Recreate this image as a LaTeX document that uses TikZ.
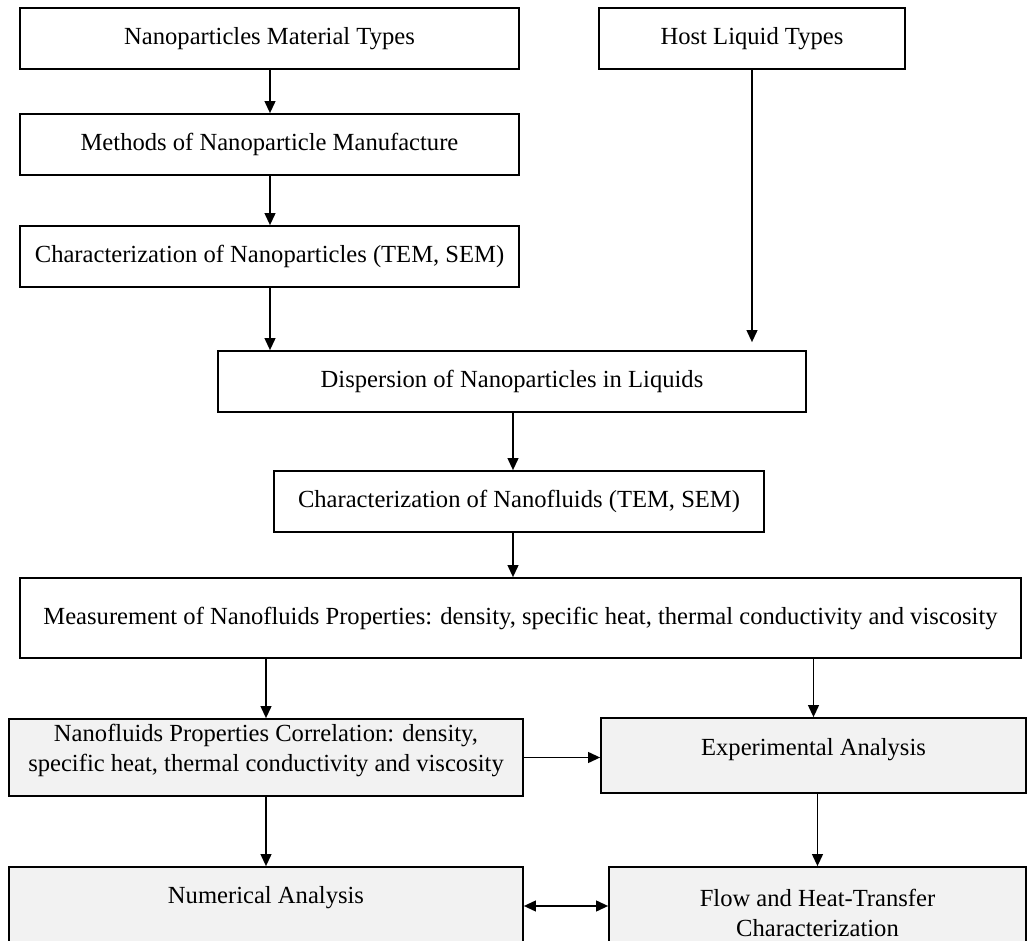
\documentclass[tikz,border=0pt]{standalone}
\usepackage{fontspec}
\setmainfont{Liberation Serif}
\usetikzlibrary{arrows.meta,calc}
\definecolor{boxgray}{HTML}{F2F2F2}
\begin{document}
\begin{tikzpicture}[x=0.5pt,y=-0.5pt,
  box/.style={draw=black, line width=0.85pt, fill=white, inner sep=0pt,
              font=\fontsize{12.3}{15}\selectfont, align=center},
  gbox/.style={box, fill=boxgray},
  lbl/.style={font=\fontsize{12.3}{15}\selectfont, align=center, inner sep=0pt},
  arr/.style={line width=0.8pt, -{Triangle[length=6pt,width=5.4pt]}},
  darr/.style={line width=0.8pt, {Triangle[length=6pt,width=5.4pt]}-{Triangle[length=6pt,width=5.4pt]}}]
\useasboundingbox (0,0) rectangle (1030,941);
\clip (0,0) rectangle (1030,941);

% boxes
\node[box, minimum width=249.5pt, minimum height=30.5pt] (b1) at (269.5,38.5) {Nanoparticles Material Types};
\node[box, minimum width=153pt, minimum height=30.5pt] (host) at (752,38.5) {Host Liquid Types};
\node[box, minimum width=249.5pt, minimum height=30.5pt] (meth) at (269.5,144.5) {Methods of Nanoparticle Manufacture};
\node[box, minimum width=249.5pt, minimum height=30.5pt] (charnp) at (269.5,256.5) {Characterization of Nanoparticles (TEM, SEM)};
\node[box, minimum width=294pt, minimum height=30.5pt] (disp) at (512,381.5) {Dispersion of Nanoparticles in Liquids};
\node[box, minimum width=245pt, minimum height=30.5pt] (charnf) at (519,501.5) {Characterization of Nanofluids (TEM, SEM)};
\node[box, minimum width=500.5pt, minimum height=40pt] (meas) at (520.5,618) {Measurement of Nanofluids Properties: density, specific heat, thermal conductivity and viscosity};
\node[gbox, minimum width=257pt, minimum height=38.5pt] (corr) at (266,757.5) {};
\node[gbox, minimum width=212.5pt, minimum height=37.5pt] (exp) at (813.5,755.5) {};
\node[gbox, minimum width=257pt, minimum height=51.5pt] (num) at (266,918.5) {};
\node[gbox, minimum width=208.5pt, minimum height=51.5pt] (flow) at (817.5,918.5) {};

% labels of grey boxes
\node[lbl] (corrT) at (266,750) {Nanofluids Properties Correlation: density,\\specific heat, thermal conductivity and viscosity};
\node[lbl] (expT) at (813.5,750) {Experimental Analysis};
\node[lbl] (numT) at (266,898) {Numerical Analysis};
\node[lbl] (flowT) at (817.5,913) {Flow and Heat-Transfer\\Characterization};

% columns / rows
\coordinate (cA) at (270,0);
\coordinate (cM) at (513,0);
\coordinate (cY) at (0,906);

% connectors
\draw[arr] (b1.south -| cA) -- (meth.north -| cA);
\draw[arr] (meth.south -| cA) -- (charnp.north -| cA);
\draw[arr] (charnp.south -| cA) -- (disp.north -| cA);
\draw[arr] (host.south) -- ([yshift=4pt]disp.north -| host.south);
\draw[arr] (disp.south -| cM) -- (charnf.north -| cM);
\draw[arr] (charnf.south -| cM) -- (meas.north -| cM);
\draw[arr] (meas.south -| corr.north) -- (corr.north);
\draw[arr] (meas.south -| exp.north) -- (exp.north);
\draw[arr] (corr.east) -- (corr.east -| exp.west);
\draw[arr] (corr.south) -- (num.north);
\draw[arr] (exp.south -| flow.north) -- (flow.north);
\draw[darr] (num.east |- cY) -- (flow.west |- cY);
\end{tikzpicture}
\end{document}
